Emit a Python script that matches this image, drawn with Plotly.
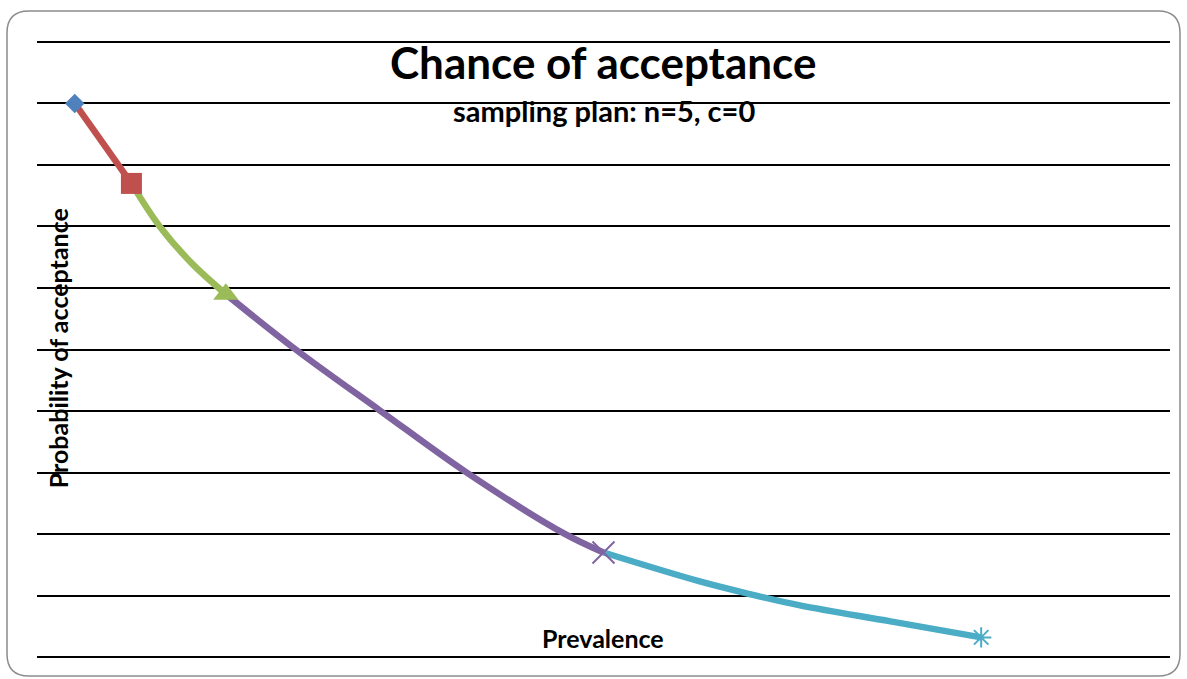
import plotly.graph_objects as go

# Key points of the operating characteristic curve
prevalence = [0.02, 0.05, 0.10, 0.30, 0.50]
acceptance = [0.90, 0.77, 0.59, 0.17, 0.032]

# Curve segments (points read along each drawn segment)
seg_red_x = [0.02, 0.05]
seg_red_y = [0.90, 0.77]
seg_green_x = [0.05, 0.065, 0.082, 0.10]
seg_green_y = [0.77, 0.70, 0.64, 0.59]
seg_purple_x = [0.10, 0.137, 0.182, 0.227, 0.279, 0.30]
seg_purple_y = [0.59, 0.50, 0.40, 0.301, 0.201, 0.17]
seg_cyan_x = [0.30, 0.351, 0.378, 0.404, 0.452, 0.50]
seg_cyan_y = [0.17, 0.123, 0.102, 0.084, 0.058, 0.032]

colors = ["#4F81BD", "#C0504D", "#9BBB59", "#8064A2", "#4BACC6"]

fig = go.Figure()

segments = [
    (seg_red_x, seg_red_y, colors[1]),
    (seg_green_x, seg_green_y, colors[2]),
    (seg_purple_x, seg_purple_y, colors[3]),
    (seg_cyan_x, seg_cyan_y, colors[4]),
]
for sx, sy, c in segments:
    fig.add_trace(go.Scatter(x=sx, y=sy, mode="lines",
                             line=dict(color=c, width=6.5, shape="spline", smoothing=1.0),
                             showlegend=False, hoverinfo="skip"))

symbols = ["diamond", "square", "triangle-up", "x-thin-open", "asterisk-open"]
sizes = [15, 21, 22, 22, 17]
for i in range(len(prevalence)):
    mk = dict(symbol=symbols[i], size=sizes[i], color=colors[i])
    if "open" in symbols[i]:
        mk["line"] = dict(color=colors[i], width=2)
    else:
        mk["line"] = dict(width=0)
    fig.add_trace(go.Scatter(x=[prevalence[i]], y=[acceptance[i]], mode="markers",
                             marker=mk, showlegend=False))

W, H = 1187, 679
L, R, T, B = 37, 1170, 40.5, 658


def px(x):
    return (x - L) / (R - L)


def py(y):
    return (B - y) / (B - T)


# rounded outer border
x0, x1, y0, y1, r = 7, 1180, 10.5, 676, 22
path = (f"M {px(x0 + r)},{py(y0)} L {px(x1 - r)},{py(y0)} "
        f"Q {px(x1)},{py(y0)} {px(x1)},{py(y0 + r)} "
        f"L {px(x1)},{py(y1 - r)} Q {px(x1)},{py(y1)} {px(x1 - r)},{py(y1)} "
        f"L {px(x0 + r)},{py(y1)} Q {px(x0)},{py(y1)} {px(x0)},{py(y1 - r)} "
        f"L {px(x0)},{py(y0 + r)} Q {px(x0)},{py(y0)} {px(x0 + r)},{py(y0)} Z")
fig.add_shape(type="path", path=path, xref="paper", yref="paper",
              line=dict(color="#8c8c8c", width=1.5), layer="below")

# top gridline (at the edge of the plotting area)
fig.add_shape(type="line", xref="paper", yref="y", x0=0, x1=1, y0=1.0, y1=1.0,
              line=dict(color="black", width=2), layer="below")

font_name = "Lato"


def label(text, x, y, size, angle=0):
    fig.add_annotation(text=f"<b>{text}</b>", x=px(x), y=py(y), xref="paper", yref="paper",
                       xanchor="center", yanchor="middle", showarrow=False, textangle=angle,
                       font=dict(family=font_name, size=size, color="black"))


label("Chance of acceptance", 603, 62, 44)
label("sampling plan: n=5, c=0", 604, 110, 29)
label("Probability of acceptance", 58, 348, 25, -90)
label("Prevalence", 603, 638, 25)

fig.update_layout(
    width=W, height=H,
    margin=dict(l=L, r=W - R, t=T, b=H - B),
    paper_bgcolor="white", plot_bgcolor="white",
    xaxis=dict(range=[0, 0.6], showgrid=False, zeroline=False, showticklabels=False,
               showline=False, ticks=""),
    yaxis=dict(range=[-0.0015, 1.0015], dtick=0.1, tick0=0, showgrid=True,
               gridcolor="black", gridwidth=2,
               zeroline=True, zerolinecolor="black", zerolinewidth=2,
               showticklabels=False, showline=False, ticks=""),
)

fig.write_html("out.html", config={"displayModeBar": False},
               post_script="document.body.style.margin='0';")
